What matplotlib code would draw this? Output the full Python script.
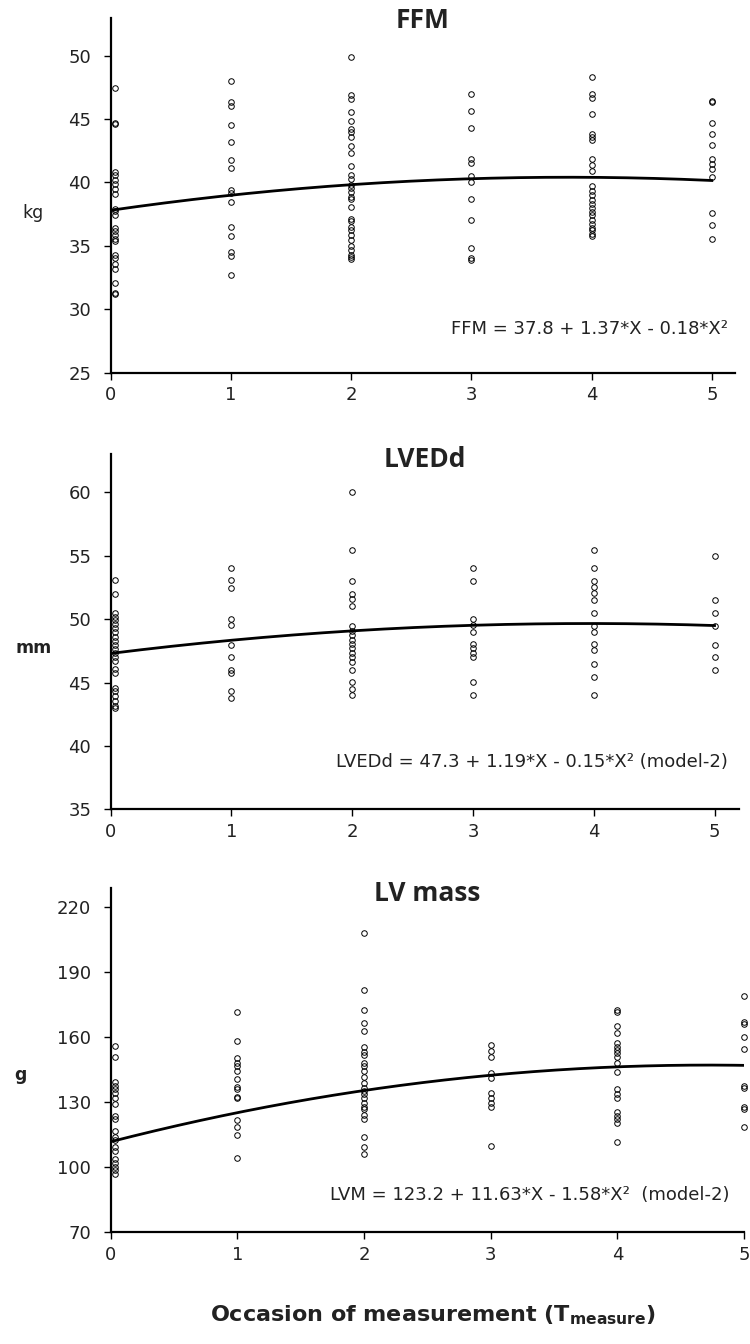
import numpy as np
import matplotlib.pyplot as plt

plt.rcParams['font.family'] = ['DejaVu Sans']
plt.rcParams['mathtext.fontset'] = 'dejavusans'

# Occasion of measurement (x values)
OCCASIONS = [0, 1, 2, 3, 4, 5]

# FFM (kg), one list per occasion
FFM_VALUES = [
    [47.45, 44.67, 44.6, 40.81, 40.55, 40.16, 39.9, 39.5, 39.1, 37.93, 37.74, 37.4,
     36.43, 36.2, 35.83, 35.56, 35.4, 34.25, 34.0, 33.6, 33.2, 32.07, 31.3, 31.2],
    [47.98, 46.38, 46.0, 44.49, 43.18, 41.78, 41.13, 39.42, 39.16, 38.45, 36.48,
     35.77, 34.51, 34.2, 32.68],
    [49.92, 46.9, 46.59, 45.59, 44.88, 44.23, 44.0, 43.62, 42.91, 42.3, 41.29, 40.55,
     40.29, 39.76, 39.55, 39.24, 38.85, 38.66, 38.06, 37.14, 36.93, 36.48, 36.22,
     35.83, 35.43, 34.99, 34.7, 34.3, 34.12, 33.99],
    [46.98, 45.67, 44.28, 41.86, 41.55, 40.5, 40.03, 38.66, 37.06, 34.86, 34.04, 33.86],
    [48.29, 46.98, 46.67, 45.41, 43.83, 43.57, 43.36, 41.86, 41.39, 40.87, 39.68,
     39.32, 38.98, 38.64, 38.32, 38.01, 37.66, 37.4, 37.06, 36.75, 36.4, 36.22,
     35.96, 35.75],
    [46.46, 46.33, 44.67, 43.78, 42.97, 41.86, 41.47, 41.08, 40.42, 37.59, 36.67, 35.56],
]

# LVEDd (mm)
LVEDD_VALUES = [
    [53.08, 51.98, 50.51, 50.2, 49.93, 49.62, 49.28, 48.96, 48.62, 48.31, 47.97,
     47.63, 47.31, 47.0, 46.74, 46.05, 45.74, 44.56, 44.3, 43.96, 43.51, 43.17, 42.96],
    [54.0, 53.08, 52.48, 50.01, 49.54, 47.97, 47.0, 46.0, 45.79, 44.3, 43.77],
    [60.0, 55.49, 53.0, 51.98, 51.59, 51.04, 49.49, 49.1, 48.76, 48.36, 48.05, 47.71,
     47.37, 47.0, 46.61, 46.0, 45.01, 44.48, 44.01],
    [54.0, 53.0, 50.01, 49.54, 49.02, 48.05, 47.71, 47.37, 47.0, 45.01, 44.01],
    [55.49, 54.0, 53.0, 52.56, 52.03, 51.51, 50.51, 49.49, 49.02, 48.05, 47.58,
     46.47, 45.48, 44.01],
    [55.0, 51.5, 50.5, 49.5, 47.97, 47.0, 46.0],
]

# LV mass (g)
LVM_VALUES = [
    [155.7, 150.8, 138.9, 137.2, 135.7, 134.2, 131.8, 128.8, 123.4, 121.8, 116.6,
     113.8, 112.3, 109.2, 107.4, 103.4, 101.8, 100.0, 98.5, 96.6],
    [171.4, 158.0, 150.0, 147.7, 146.5, 144.3, 140.5, 136.6, 135.7, 132.3, 131.5,
     121.5, 118.2, 114.6, 103.8],
    [207.8, 181.7, 172.2, 166.5, 162.6, 155.4, 153.1, 151.5, 148.0, 146.5, 144.3,
     141.2, 138.5, 136.2, 135.1, 133.4, 131.5, 129.2, 127.7, 126.5, 123.7, 121.8,
     113.5, 109.2, 105.8],
    [156.2, 153.5, 150.8, 143.1, 140.8, 133.8, 131.5, 129.2, 127.7, 109.5],
    [172.3, 171.5, 164.9, 161.8, 157.2, 155.4, 153.8, 152.3, 150.5, 148.0, 143.8,
     135.7, 133.5, 131.5, 125.4, 123.4, 121.8, 120.0, 111.5],
    [178.9, 166.9, 165.7, 160.0, 154.2, 137.2, 136.5, 127.7, 126.5, 118.5],
]

# quadratic fit lines (intercept, X, X^2) as drawn in the picture
FFM_FIT = [37.8, 1.37, -0.18]
LVEDD_FIT = [47.3, 1.19, -0.15]
LVM_FIT = [111.5, 15.0, -1.59]

TITLES = ["FFM", "LVEDd", "LV mass"]
UNITS = ["kg", "mm", "g"]
EQUATIONS = [
    "FFM = 37.8 + 1.37*X - 0.18*X\u00b2",
    "LVEDd = 47.3 + 1.19*X - 0.15*X\u00b2 (model-2)",
    "LVM = 123.2 + 11.63*X - 1.58*X\u00b2  (model-2)",
]
Y_TICKS = [
    [25, 30, 35, 40, 45, 50],
    [35, 40, 45, 50, 55, 60],
    [70, 100, 130, 160, 190, 220],
]

TXT = '#222222'


def draw_panel(ax, values, fit, title, unit, eq, yticks, ylim, xmax, unit_bold, unit_pos, title_y, eq_pos):
    for occ, vals in zip(OCCASIONS, values):
        xpos = occ + 0.035 if occ == 0 else occ  # nudge first column off the axis
        ax.plot([xpos] * len(vals), vals, linestyle='none', marker='o', ms=4,
                mfc='none', mec='k', mew=0.7, clip_on=False, zorder=3)

    xs = np.linspace(0, 5, 200)
    ax.plot(xs, fit[0] + fit[1] * xs + fit[2] * xs ** 2, color='k', lw=2.0, zorder=4)

    ax.set_xlim(0, xmax)
    ax.set_ylim(*ylim)
    ax.set_xticks(OCCASIONS)
    ax.set_yticks(yticks)
    for s in ['top', 'right']:
        ax.spines[s].set_visible(False)
    for s in ['left', 'bottom']:
        ax.spines[s].set_linewidth(1.6)
    ax.tick_params(axis='both', direction='out', length=5, width=1.0, labelsize=13,
                   colors='k', labelcolor=TXT)
    ax.tick_params(axis='y', pad=9)
    ax.tick_params(axis='x', pad=5)

    ax.text(0.5, title_y, title, transform=ax.transAxes, ha='center', va='center',
            fontsize=19, fontweight='bold', color=TXT, family='Open Sans')
    ax.text(unit_pos[0], unit_pos[1], unit, transform=ax.transAxes, ha='center', va='center',
            fontsize=12.5, fontweight='bold' if unit_bold else 'normal', color=TXT)
    ax.text(eq_pos[0], eq_pos[1], eq, transform=ax.transAxes, ha='right', va='center',
            fontsize=13, color=TXT)


fig = plt.figure(figsize=(7.5, 13.44), dpi=100)

ax1 = fig.add_axes([0.1476, 0.7228, 0.832, 0.2641])
ax2 = fig.add_axes([0.1476, 0.3978, 0.8373, 0.2641])
ax3 = fig.add_axes([0.1476, 0.0836, 0.8444, 0.2555])

draw_panel(ax1, FFM_VALUES, FFM_FIT, TITLES[0], UNITS[0], EQUATIONS[0], Y_TICKS[0],
           (25, 53), 5.19, False, (-0.125, 0.449), 0.993, (0.989, 0.1225))
draw_panel(ax2, LVEDD_VALUES, LVEDD_FIT, TITLES[1], UNITS[1], EQUATIONS[1], Y_TICKS[1],
           (35, 63), 5.2, True, (-0.123, 0.454), 0.987, (0.983, 0.133))
draw_panel(ax3, LVM_VALUES, LVM_FIT, TITLES[2], UNITS[2], EQUATIONS[2], Y_TICKS[2],
           (70, 228.5), 5.0, True, (-0.142, 0.456), 0.986, (0.977, 0.107))

fig.text(0.578, 0.0216, r'Occasion of measurement ($\mathbf{T_{measure}}$)',
         ha='center', va='center', fontsize=16, fontweight='bold', color=TXT)

fig.savefig('out.png', dpi=100)
